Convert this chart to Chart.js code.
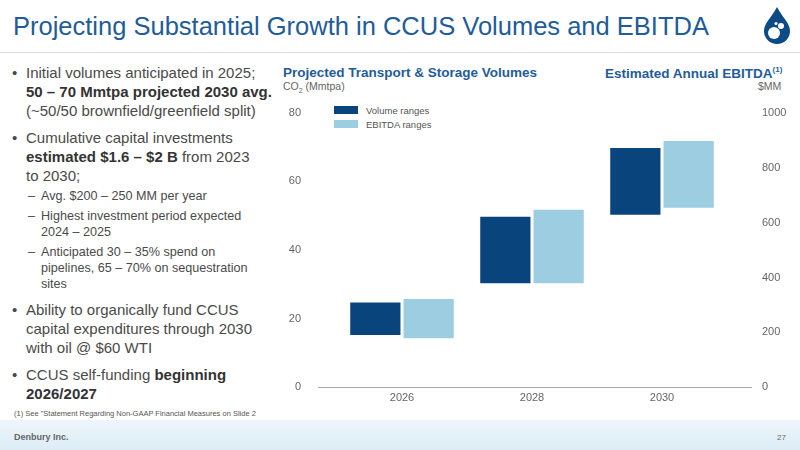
<!DOCTYPE html>
<html><head><meta charset="utf-8">
<script src="https://cdn.jsdelivr.net/npm/chart.js@4"></script>
<style>
body{margin:0;width:800px;height:450px;overflow:hidden;font-family:"Liberation Sans",Arial,sans-serif;background:#fff;position:relative}
.abs{position:absolute}
#title{left:13px;top:12px;font-size:25.5px;color:#1f5c99;white-space:nowrap}
#rule{left:0;top:52px;width:800px;height:1px;background:#dcdcdc}
#bul{left:12px;top:63px;width:264px;color:#4a4a4a;font-size:15px;line-height:19px}
.b{position:relative;padding-left:14px;margin-bottom:8px}
.b:before{content:"•";position:absolute;left:0}
.s{position:relative;padding-left:13px;margin-left:16px;font-size:12.6px;line-height:16px;margin-top:3px;margin-bottom:4px;width:222px}
.s:before{content:"–";position:absolute;left:0}
strong{color:#333}
#foot{left:0;top:420px;width:800px;height:30px;background:linear-gradient(to bottom,#eef6fb,#dcedf6)}
.ct{font-weight:bold;color:#1f5c99;font-size:13.5px;white-space:nowrap}
.at{font-size:10.5px;color:#666;white-space:nowrap}
.leg{font-size:9.5px;color:#555;white-space:nowrap}
</style></head><body>
<div id="title" class="abs">Projecting Substantial Growth in CCUS Volumes and EBITDA</div>
<svg class="abs" style="left:760px;top:5px" width="34" height="40" viewBox="0 0 34 40">
<path d="M17 2 C22 12 30 18 30 26 A13 13 0 0 1 4 26 C4 18 12 12 17 2Z" fill="#0d4a86"/>
<circle cx="14" cy="28" r="6" fill="#fff"/><circle cx="21" cy="21" r="3" fill="#fff"/><circle cx="16" cy="18.5" r="1.6" fill="#fff"/>
</svg>
<div id="rule" class="abs"></div>
<div id="bul" class="abs">
<div class="b">Initial volumes anticipated in 2025; <strong>50 – 70 Mmtpa projected 2030 avg.</strong> (~50/50 brownfield/greenfield split)</div>
<div class="b" style="margin-bottom:2px;width:235px">Cumulative capital investments <strong>estimated $1.6 – $2 B</strong> from 2023 to 2030;</div>
<div class="s">Avg. $200 – 250 MM per year</div>
<div class="s">Highest investment period expected 2024 – 2025</div>
<div class="s" style="margin-bottom:8px">Anticipated 30 – 35% spend on pipelines, 65 – 70% on sequestration sites</div>
<div class="b">Ability to organically fund CCUS capital expenditures through 2030 with oil @ $60 WTI</div>
<div class="b">CCUS self-funding <strong>beginning 2026/2027</strong></div>
</div>
<div class="abs" style="left:14px;top:409px;font-size:7.5px;color:#555">(1) See "Statement Regarding Non-GAAP Financial Measures on Slide 2</div>
<div id="foot" class="abs"></div>
<div class="abs" style="left:14px;top:432px;font-size:9px;font-weight:bold;color:#666">Denbury Inc.</div>
<div class="abs" style="left:777px;top:433px;font-size:8px;color:#666">27</div>

<div class="abs ct" style="left:283px;top:65px">Projected Transport &amp; Storage Volumes</div>
<div class="abs ct" style="left:605px;top:65px">Estimated Annual EBITDA<sup style="font-size:8px">(1)</sup></div>
<div class="abs at" style="left:283px;top:80px">CO<sub style="font-size:7px">2</sub> (Mmtpa)</div>
<div class="abs at" style="left:758px;top:80px">$MM</div>
<div class="abs" style="left:334px;top:106px;width:24px;height:8px;background:#0a447c"></div>
<div class="abs leg" style="left:366px;top:105px">Volume ranges</div>
<div class="abs" style="left:334px;top:120px;width:24px;height:8px;background:#9dcde0"></div>
<div class="abs leg" style="left:366px;top:119px">EBITDA ranges</div>

<canvas id="c" class="abs" style="left:280px;top:70px;width:510px;height:360px" width="510" height="360"></canvas>
<script>
const categories=["2026","2028","2030"];
const volumeLow=[15,30,50];
const volumeHigh=[25,50,70];
const ebitdaLow=[175,375,650];
const ebitdaHigh=[325,650,900];
const volumeTicks=[0,20,40,60,80];
const ebitdaTicks=[0,200,400,600,800,1000];

const axisLine={id:'axisLine',afterDraw(ch){const c=ch.ctx,y=ch.scales.y.getPixelForValue(0);c.save();c.strokeStyle='#aaa';c.lineWidth=1;c.beginPath();c.moveTo(318-280,Math.round(y)+0.5);c.lineTo(752-280,Math.round(y)+0.5);c.stroke();c.restore();}};
const tickFont={family:'"Liberation Sans",Arial,sans-serif',size:11};
new Chart(document.getElementById('c'),{
type:'bar',
data:{labels:categories,datasets:[
{label:'Volume ranges',data:categories.map((_,i)=>[volumeLow[i],volumeHigh[i]]),backgroundColor:'#0a447c',borderColor:'#ffffff',borderWidth:1,borderSkipped:false,yAxisID:'y',barPercentage:0.98,categoryPercentage:0.82},
{label:'EBITDA ranges',data:categories.map((_,i)=>[ebitdaLow[i],ebitdaHigh[i]]),backgroundColor:'#9dcde0',borderColor:'#ffffff',borderWidth:1,borderSkipped:false,yAxisID:'y1',barPercentage:0.98,categoryPercentage:0.82}
]},
options:{responsive:false,animation:false,devicePixelRatio:1,
layout:{padding:{top:12,bottom:0,left:0,right:0}},
plugins:{legend:{display:false},tooltip:{enabled:false}},
scales:{
x:{grid:{display:false,drawTicks:false},border:{display:false},ticks:{color:'#666',font:tickFont,padding:4},afterFit(s){s.height=25;}},
y:{position:'left',min:0,max:80,afterBuildTicks(s){s.ticks=volumeTicks.map(v=>({value:v}));},grid:{display:false,drawTicks:false},border:{display:false},ticks:{color:'#666',font:tickFont,padding:36},afterFit(s){s.width=57;}},
y1:{position:'right',min:0,max:1000,afterBuildTicks(s){s.ticks=ebitdaTicks.map(v=>({value:v}));},grid:{display:false,drawTicks:false},border:{display:false},ticks:{color:'#666',font:tickFont,padding:35,callback:v=>String(v)},afterFit(s){s.width=63;}}
}},
plugins:[axisLine]
});
</script>
</body></html>
